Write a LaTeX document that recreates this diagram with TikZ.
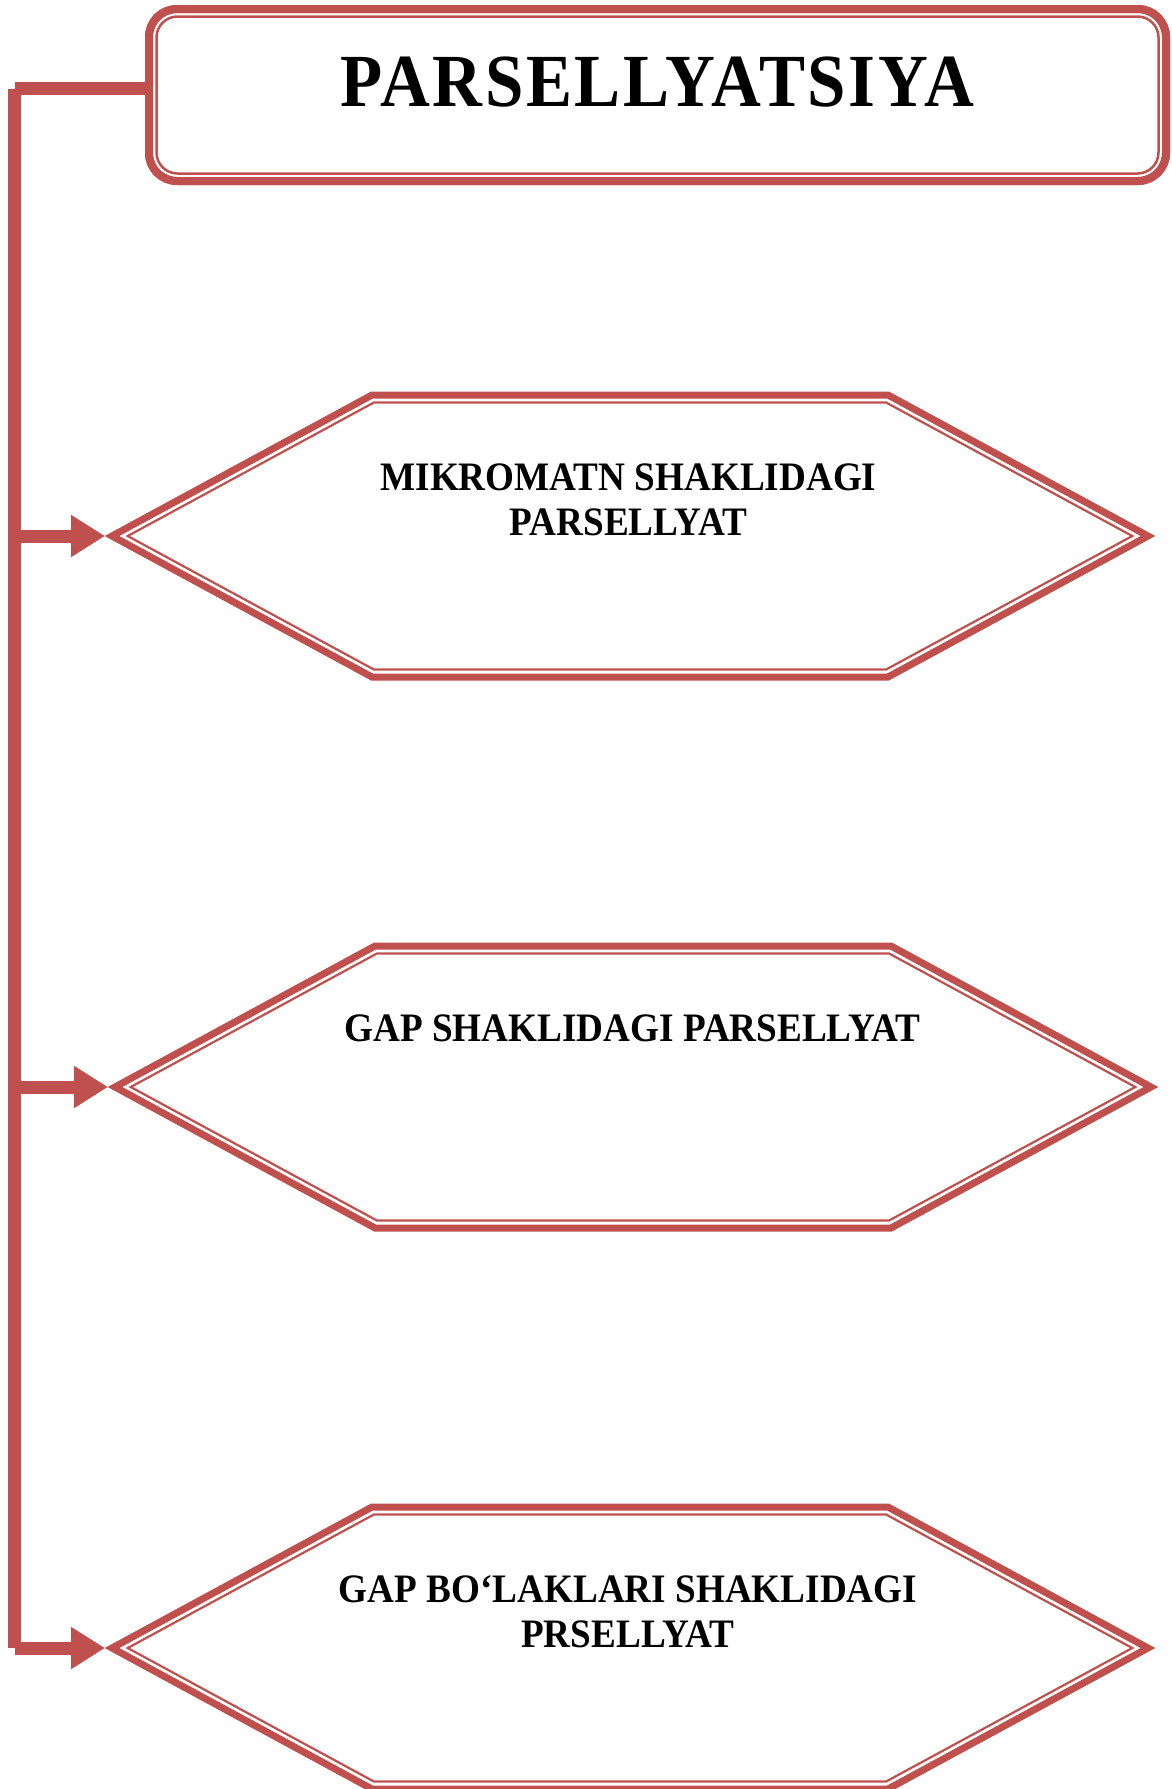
\documentclass[tikz,border=0pt]{standalone}
\usepackage{fontspec}
\newfontfamily\tnr{Liberation Serif}[FakeStretch=0.92]
\newfontfamily\tnrtitle{Liberation Serif}[FakeStretch=0.92,LetterSpace=3.5]
\usetikzlibrary{arrows.meta}
\definecolor{accred}{RGB}{192,80,77}
\begin{document}
\begin{tikzpicture}[x=1pt,y=-1pt,
  boxthick/.style={draw=accred, line width=8pt},
  boxthin/.style={draw=accred, line width=2.5pt},
  hexthick/.style={draw=accred, line width=7pt, line join=miter, miter limit=10},
  hexthin/.style={draw=accred, line width=2.2pt, line join=miter, miter limit=10},
  conn/.style={draw=accred, line width=13pt},
  arr/.style={conn, -{Triangle[length=34pt,width=40pt]}},
  titletext/.style={font=\tnrtitle\bfseries\fontsize{75}{80}\selectfont, inner sep=0pt, anchor=north},
  hextext/.style={font=\tnr\bfseries\fontsize{40.4}{45}\selectfont, align=center, inner sep=0pt, anchor=north},
  hexfr/.pic={
    \draw[hexthick] (-518,0) -- (-258,-141) -- (258,-141) -- (518,0) -- (258,141) -- (-258,141) -- cycle;
    \draw[hexthin] (-502.3,0) -- (-256.1,-133.5) -- (256.1,-133.5) -- (502.3,0) -- (256.1,133.5) -- (-256.1,133.5) -- cycle;
  }
]
\useasboundingbox (0,0) rectangle (1171,1789);
\fill[white] (0,0) rectangle (1171,1789);

% spine coordinates
\coordinate (s0) at (14.5,88.5);
\coordinate (s1) at (14.5,536);
\coordinate (s2) at (14.5,1087);
\coordinate (s3) at (14.5,1648);

% hexagon tips
\coordinate (h1tip) at (105,536);
\coordinate (h2tip) at (108,1087);
\coordinate (h3tip) at (105,1648);

% title box
\node[boxthick, rounded corners=28pt, minimum width=1017pt, minimum height=172pt, inner sep=0pt] (titlebox) at (657.5,95) {};

% connectors
\draw[conn] (s0) -- (s3);
\draw[conn] (s0) -- (s0 -| titlebox.west);
\draw[arr] (s1) -- (h1tip);
\draw[arr] (s2) -- (h2tip);
\draw[arr] (s3) -- (h3tip);

% title box redrawn on top, with inner line
\draw[boxthick, rounded corners=28pt] (149,9) rectangle (1166,181);
\draw[boxthin, rounded corners=21pt] (156.5,16.5) rectangle (1158.5,173.5);
\node[titletext] (title) at (657.5,57) {PARSELLYATSIYA};

% hexagons
\pic at (630,536) {hexfr};
\pic at (633,1087) {hexfr};
\pic at (630,1648) {hexfr};

\node[hextext] (h1) at (628.5,464) {MIKROMATN SHAKLIDAGI\\PARSELLYAT};
\node[hextext] (h2) at (632.5,1015) {GAP SHAKLIDAGI PARSELLYAT};
\node[hextext] (h3) at (628,1575) {GAP BO‘LAKLARI SHAKLIDAGI\\PRSELLYAT};
\end{tikzpicture}
\end{document}
